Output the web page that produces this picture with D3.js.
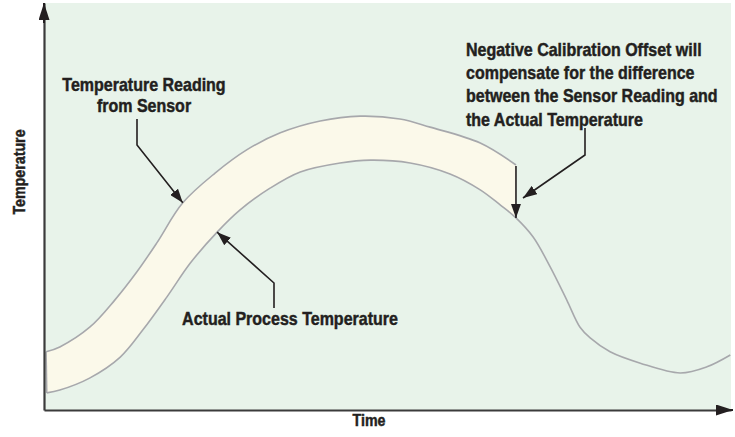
<!DOCTYPE html>
<html>
<head>
<meta charset="utf-8">
<script src="https://cdn.jsdelivr.net/npm/d3@7"></script>
<style>
  html, body { margin: 0; padding: 0; background: #ffffff; }
  svg { display: block; }
  .lbl { font-family: "Liberation Sans", Arial, Helvetica, sans-serif;
         font-weight: bold; fill: #231f20; stroke: #231f20; stroke-width: 0.45px; }
</style>
</head>
<body>
<svg id="chart" width="735" height="437"></svg>
<script>
// Time (0-100) and temperature (0-100) samples of the two curves
const sensorTime = [0.3, 2.3, 6.7, 10.3, 13.5, 16.4, 20.2, 24.9, 29.5, 34.4, 40.2, 46.0, 51.8, 56.2, 63.5, 68.7];
const sensorTemp = [14.3, 15.5, 20.4, 27.0, 33.9, 41.0, 50.9, 58.2, 63.9, 68.1, 71.0, 72.2, 71.5, 69.5, 65.6, 60.2];

const actualTime = [0.4, 2.3, 6.7, 11.1, 14.4, 17.9, 21.3, 25.2, 28.5, 32.9, 37.3, 43.1, 47.5, 53.3, 59.1, 63.5, 66.4, 68.7,
                    71.2, 73.7, 76.1, 78.0, 79.5, 82.4, 86.8, 92.6, 96.5, 99.9];
const actualTemp = [4.2, 4.9, 7.9, 13.0, 19.7, 27.8, 36.1, 43.7, 49.1, 54.5, 58.5, 60.7, 61.4, 60.7, 58.0, 54.1, 50.4, 47.2,
                    42.5, 35.1, 27.0, 20.4, 17.7, 14.3, 11.5, 9.1, 10.6, 13.5];

const axisTitles = { x: "Time", y: "Temperature" };
const sensorLabel = ["Temperature Reading", "from Sensor"];
const actualLabel = ["Actual Process Temperature"];
const offsetLabel = ["Negative Calibration Offset will", "compensate for the difference",
                     "between the Sensor Reading and", "the Actual Temperature"];

const sensor = sensorTime.map((t, i) => ({ t, v: sensorTemp[i] }));
const actual = actualTime.map((t, i) => ({ t, v: actualTemp[i] }));

const svg = d3.select("#chart");
const plot = { left: 44, right: 731, top: 3, bottom: 410 };
const condense = 0.89; // horizontal squeeze for a condensed bold look

const x = d3.scaleLinear().domain([0, 100]).range([plot.left, plot.right]);
const y = d3.scaleLinear().domain([0, 100]).range([plot.bottom, plot.top]);

// plot background
svg.append("rect")
  .attr("x", plot.left).attr("y", plot.top)
  .attr("width", plot.right - plot.left).attr("height", plot.bottom - plot.top)
  .attr("fill", "#e8f3ea");

// arrowhead markers
const defs = svg.append("defs");
function marker(id, len, half) {
  defs.append("marker")
    .attr("id", id)
    .attr("markerUnits", "userSpaceOnUse")
    .attr("viewBox", `0 ${-half} ${len} ${half * 2}`)
    .attr("refX", len).attr("refY", 0)
    .attr("markerWidth", len).attr("markerHeight", half * 2)
    .attr("orient", "auto")
    .append("path")
    .attr("d", `M0,${-half}L${len},0L0,${half}Z`)
    .attr("fill", "#231f20");
}
marker("arr", 14, 5);
marker("axarr", 17, 5.5);

const line = d3.line().x(d => x(d.t)).y(d => y(d.v)).curve(d3.curveCatmullRom.alpha(0.5));

// band between sensor reading and actual temperature
const bandEnd = sensor[sensor.length - 1].t;
const actualPart = actual.filter(d => d.t <= bandEnd + 1e-9);
const upperPath = line(sensor);
const lowerPath = line(actualPart.slice().reverse());
svg.append("path")
  .attr("d", upperPath + "L" + lowerPath.slice(1) + "Z")
  .attr("fill", "#fbf9ea");

// left edge of the band
svg.append("line")
  .attr("x1", x(sensor[0].t)).attr("y1", y(sensor[0].v))
  .attr("x2", x(actual[0].t)).attr("y2", y(actual[0].v))
  .attr("stroke", "#a7a8ac").attr("stroke-width", 1.6);

// curves
svg.append("path").attr("d", upperPath)
  .attr("fill", "none").attr("stroke", "#a7a8ac").attr("stroke-width", 1.6);
svg.append("path").attr("d", line(actual))
  .attr("fill", "none").attr("stroke", "#a7a8ac").attr("stroke-width", 1.6);

// axes (lines only, no ticks)
const xAxis = svg.append("g").attr("transform", `translate(0,${plot.bottom})`)
  .call(d3.axisBottom(x).tickValues([]).tickSizeOuter(0));
xAxis.select(".domain").attr("stroke", "#3b3b3b").attr("stroke-width", 2.2);
const yAxis = svg.append("g").attr("transform", `translate(${plot.left},0)`)
  .call(d3.axisLeft(y).tickValues([]).tickSizeOuter(0));
yAxis.select(".domain").attr("stroke", "#3b3b3b").attr("stroke-width", 2.2);

// axis arrows
svg.append("line")
  .attr("x1", plot.right - 10).attr("y1", plot.bottom)
  .attr("x2", plot.right + 2).attr("y2", plot.bottom)
  .attr("stroke", "#231f20").attr("stroke-width", 2)
  .attr("marker-end", "url(#axarr)");
svg.append("line")
  .attr("x1", plot.left).attr("y1", plot.top + 20)
  .attr("x2", plot.left).attr("y2", plot.top)
  .attr("stroke", "#231f20").attr("stroke-width", 2)
  .attr("marker-end", "url(#axarr)");

// text block helper: lines stacked at (xPos, yPos), squeezed horizontally
function lines(arr, xPos, yPos, step, anchor, size, rotate) {
  const g = svg.append("g")
    .attr("transform", `translate(${xPos},${yPos})` + (rotate ? ` rotate(${rotate})` : "") + ` scale(${condense},1)`);
  const t = g.append("text").attr("class", "lbl")
    .attr("text-anchor", anchor).style("font-size", size + "px");
  arr.forEach((s, i) => t.append("tspan").attr("x", 0).attr("y", i * step).text(s));
}
function leader(points) {
  svg.append("path")
    .attr("d", d3.line()(points))
    .attr("fill", "none").attr("stroke", "#231f20").attr("stroke-width", 1.6)
    .attr("marker-end", "url(#arr)");
}

// axis titles
lines([axisTitles.x], 369, 426, 0, "middle", 16);
lines([axisTitles.y], 24.5, 172, 0, "middle", 16, -90);

// sensor reading label
lines(sensorLabel, 144, 91, 21, "middle", 18);
const sTip = sensor[6];
leader([[137, 119], [137, 145], [x(sTip.t), y(sTip.v)]]);

// actual temperature label
lines(actualLabel, 290, 325, 0, "middle", 18);
const aTip = actual[7];
leader([[274, 308], [274, 283], [x(aTip.t), y(aTip.v)]]);

// calibration offset label
lines(offsetLabel, 466, 56, 23.2, "start", 18);
leader([[585, 128], [585, 155], [523, 198]]);

// offset arrow: sensor end down to the actual curve
const sEnd = sensor[sensor.length - 1];
const aEnd = actualPart[actualPart.length - 1];
leader([[x(sEnd.t), y(sEnd.v) + 1], [x(aEnd.t), y(aEnd.v)]]);
</script>
</body>
</html>
